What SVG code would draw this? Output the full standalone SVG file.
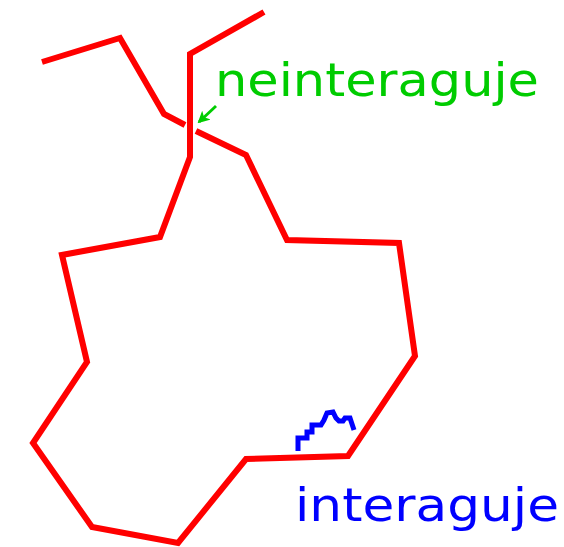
<svg xmlns="http://www.w3.org/2000/svg" width="564" height="547" viewBox="0 0 564 547">
<style>
.red{fill:none;stroke:#ff0000;stroke-width:6;stroke-linejoin:miter}
.blue{fill:none;stroke:#0000ff;stroke-width:5;stroke-linejoin:miter}
.t{font-family:"DejaVu Sans","Liberation Sans",sans-serif;font-size:47px}
</style>
<defs>
<marker id="ah" markerWidth="12" markerHeight="12" refX="10" refY="6" orient="auto" markerUnits="userSpaceOnUse">
<path d="M0,0 L12,6 L0,12 L3,6 Z" fill="#00cc00"/>
</marker>
</defs>
<rect width="564" height="547" fill="#ffffff"/>
<g id="connectors">
<polyline id="chain-a" class="red" points="42,62 120,38 164,114 185,125"/>
<polyline id="chain-b" class="red" points="196,131 246,155 287,240 399,243 415,356 348,456 246,459 178,543 92,527 33,443 87,362 62,255 160,237 190,157 190,54 264,12"/>
<polyline id="squiggle" class="blue" points="298,451 298,438 307,438 307,432 312,432 312,425 321,425 324,420 327,413 333,412 336,418 339,421 343,421 345,418 350,418 352,424 354,430"/>
<line id="arrow" x1="216" y1="106" x2="199" y2="122" stroke="#00cc00" stroke-width="3" marker-end="url(#ah)"/>
</g>
<g id="label-neinteraguje">
<text class="t" x="215" y="96" fill="#00cc00" textLength="324" lengthAdjust="spacingAndGlyphs">neinteraguje</text>
</g>
<g id="label-interaguje">
<text class="t" x="295" y="521" fill="#0000ff" textLength="264" lengthAdjust="spacingAndGlyphs">interaguje</text>
</g>
</svg>
